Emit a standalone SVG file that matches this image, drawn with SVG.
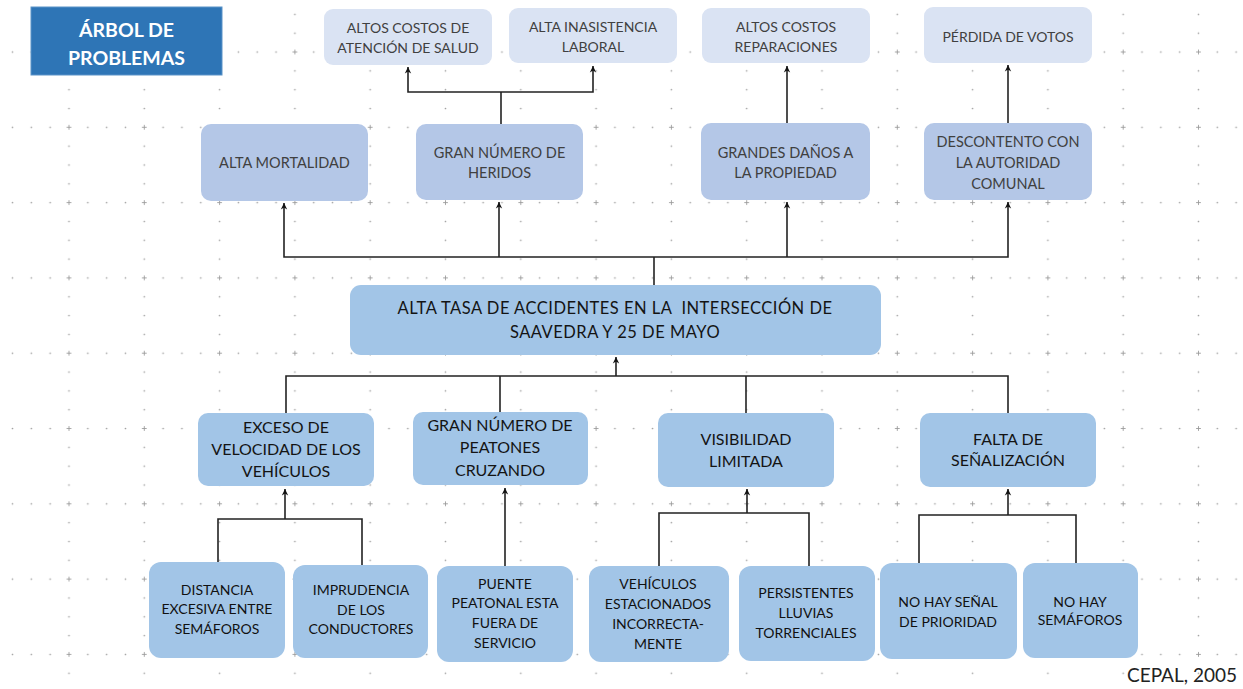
<svg xmlns="http://www.w3.org/2000/svg" width="1243" height="689" viewBox="0 0 1243 689">
<style>
.t{font-family:Lato,"Liberation Sans",sans-serif;text-anchor:middle}
.top{fill:#DAE3F3}
.mid{fill:#B4C7E7}
.low{fill:#A2C5E7}
.tg{font-size:14px;fill:#404040}
.tm{font-size:14.5px;fill:#404040}
.tc{font-size:16px;fill:#141414}
.tx{font-size:16.5px;fill:#141414;letter-spacing:0.5px;white-space:pre}
.tb{font-size:14px;fill:#111}
.ln{fill:none;stroke:#222;stroke-width:1.6}
</style>
<defs>
<pattern id="grid" patternUnits="userSpaceOnUse" x="59.59" y="42.59" width="75.3" height="75.3">
<path d="M7,9.41 H11.8 M9.41,7 V11.8" stroke="#9a9a9a" stroke-width="0.9"/>
<g fill="#a0a0a0">
<circle cx="28.24" cy="9.41" r="0.85"/><circle cx="47.06" cy="9.41" r="0.85"/><circle cx="65.89" cy="9.41" r="0.85"/>
<circle cx="9.41" cy="28.24" r="0.85"/><circle cx="9.41" cy="47.06" r="0.85"/><circle cx="9.41" cy="65.89" r="0.85"/>
</g>
</pattern>
<marker id="ar" viewBox="0 0 10 10" refX="9" refY="5" markerWidth="8" markerHeight="8" markerUnits="userSpaceOnUse" orient="auto-start-reverse">
<path d="M1,1 L9,5 L1,9 L3.5,5 z" fill="#111"/>
</marker>
</defs>
<rect width="1243" height="689" fill="#fff"/>
<rect width="1243" height="689" fill="url(#grid)"/>

<g id="connectors">
<path class="ln" d="M501,124 V92"/>
<path class="ln" d="M408,67 V92 H593 V66" marker-start="url(#ar)" marker-end="url(#ar)"/>
<path class="ln" d="M787,123 V66" marker-end="url(#ar)"/>
<path class="ln" d="M1008,123 V65" marker-end="url(#ar)"/>
<path class="ln" d="M654,285 V257"/>
<path class="ln" d="M284,203 V257 H1008 V202" marker-start="url(#ar)" marker-end="url(#ar)"/>
<path class="ln" d="M499,257 V202" marker-end="url(#ar)"/>
<path class="ln" d="M787,257 V202" marker-end="url(#ar)"/>
<path class="ln" d="M286,413 V376 H1008 V413"/>
<path class="ln" d="M500,376 V412"/>
<path class="ln" d="M746,376 V413"/>
<path class="ln" d="M616,376 V357" marker-end="url(#ar)"/>
<path class="ln" d="M218,562 V519 H362 V565"/>
<path class="ln" d="M285,519 V489" marker-end="url(#ar)"/>
<path class="ln" d="M505,566 V488" marker-end="url(#ar)"/>
<path class="ln" d="M659,566 V513 H809 V566"/>
<path class="ln" d="M747,513 V489" marker-end="url(#ar)"/>
<path class="ln" d="M919,563 V515 H1076 V563"/>
<path class="ln" d="M1008,515 V489" marker-end="url(#ar)"/>
</g>

<g id="title">
<rect x="31" y="7" width="191" height="68" fill="#2E75B6" stroke="#5b93c8" stroke-width="1"/>
<text class="t" x="126.5" y="37" font-size="19.5" font-weight="bold" fill="#fff">ÁRBOL DE</text>
<text class="t" x="126.5" y="65" font-size="19.5" font-weight="bold" fill="#fff">PROBLEMAS</text>
</g>

<g id="n-costos-salud">
<rect class="top" x="324" y="9" width="168" height="56" rx="9"/>
<text class="t tg" x="408" y="33">ALTOS COSTOS DE</text>
<text class="t tg" x="408" y="53">ATENCIÓN DE SALUD</text>
</g>
<g id="n-inasistencia">
<rect class="top" x="509" y="8" width="168" height="55" rx="9"/>
<text class="t tg" x="593" y="32">ALTA INASISTENCIA</text>
<text class="t tg" x="593" y="52">LABORAL</text>
</g>
<g id="n-costos-rep">
<rect class="top" x="702" y="8" width="168" height="55" rx="9"/>
<text class="t tg" x="786" y="32">ALTOS COSTOS</text>
<text class="t tg" x="786" y="52">REPARACIONES</text>
</g>
<g id="n-votos">
<rect class="top" x="924" y="7" width="168" height="56" rx="9"/>
<text class="t tg" x="1008" y="42">PÉRDIDA DE VOTOS</text>
</g>

<g id="n-mortalidad">
<rect class="mid" x="201" y="124" width="167" height="77" rx="10"/>
<text class="t tm" x="284.5" y="168">ALTA MORTALIDAD</text>
</g>
<g id="n-heridos">
<rect class="mid" x="416" y="124" width="167" height="76" rx="10"/>
<text class="t tm" x="499.5" y="158">GRAN NÚMERO DE</text>
<text class="t tm" x="499.5" y="178">HERIDOS</text>
</g>
<g id="n-danos">
<rect class="mid" x="701" y="123" width="169" height="77" rx="10"/>
<text class="t tm" x="785.5" y="158">GRANDES DAÑOS A</text>
<text class="t tm" x="785.5" y="178">LA PROPIEDAD</text>
</g>
<g id="n-descontento">
<rect class="mid" x="924" y="123" width="168" height="77" rx="10"/>
<text class="t tm" x="1008" y="147">DESCONTENTO CON</text>
<text class="t tm" x="1008" y="168">LA AUTORIDAD</text>
<text class="t tm" x="1008" y="189">COMUNAL</text>
</g>

<g id="n-central">
<rect class="low" x="350" y="285" width="531" height="70" rx="11"/>
<text class="t tx" x="615" y="314">ALTA TASA DE ACCIDENTES EN LA  INTERSECCIÓN DE</text>
<text class="t tx" x="615" y="338">SAAVEDRA Y 25 DE MAYO</text>
</g>

<g id="n-exceso">
<rect class="low" x="198" y="413" width="176" height="73" rx="10"/>
<text class="t tc" x="286" y="433">EXCESO DE</text>
<text class="t tc" x="286" y="455">VELOCIDAD DE LOS</text>
<text class="t tc" x="286" y="477">VEHÍCULOS</text>
</g>
<g id="n-peatones">
<rect class="low" x="413" y="412" width="175" height="73" rx="10"/>
<text class="t tc" x="500" y="431">GRAN NÚMERO DE</text>
<text class="t tc" x="500" y="453">PEATONES</text>
<text class="t tc" x="500" y="476">CRUZANDO</text>
</g>
<g id="n-visibilidad">
<rect class="low" x="658" y="413" width="176" height="74" rx="10"/>
<text class="t tc" x="746" y="445">VISIBILIDAD</text>
<text class="t tc" x="746" y="467">LIMITADA</text>
</g>
<g id="n-senalizacion">
<rect class="low" x="920" y="413" width="176" height="74" rx="10"/>
<text class="t tc" x="1008" y="445">FALTA DE</text>
<text class="t tc" x="1008" y="466">SEÑALIZACIÓN</text>
</g>

<g id="n-distancia">
<rect class="low" x="149" y="562" width="136" height="96" rx="12"/>
<text class="t tb" x="217" y="595">DISTANCIA</text>
<text class="t tb" x="217" y="614">EXCESIVA ENTRE</text>
<text class="t tb" x="217" y="634">SEMÁFOROS</text>
</g>
<g id="n-imprudencia">
<rect class="low" x="293" y="565" width="135" height="93" rx="12"/>
<text class="t tb" x="361" y="595">IMPRUDENCIA</text>
<text class="t tb" x="361" y="615">DE LOS</text>
<text class="t tb" x="361" y="634">CONDUCTORES</text>
</g>
<g id="n-puente">
<rect class="low" x="437" y="566" width="136" height="96" rx="12"/>
<text class="t tb" x="505" y="589">PUENTE</text>
<text class="t tb" x="505" y="608">PEATONAL ESTA</text>
<text class="t tb" x="505" y="628">FUERA DE</text>
<text class="t tb" x="505" y="648">SERVICIO</text>
</g>
<g id="n-estacionados">
<rect class="low" x="589" y="566" width="140" height="96" rx="12"/>
<text class="t tb" x="658" y="589">VEHÍCULOS</text>
<text class="t tb" x="658" y="609">ESTACIONADOS</text>
<text class="t tb" x="658" y="629">INCORRECTA-</text>
<text class="t tb" x="658" y="649">MENTE</text>
</g>
<g id="n-lluvias">
<rect class="low" x="739" y="566" width="136" height="95" rx="12"/>
<text class="t tb" x="806" y="598">PERSISTENTES</text>
<text class="t tb" x="806" y="618">LLUVIAS</text>
<text class="t tb" x="806" y="638">TORRENCIALES</text>
</g>
<g id="n-prioridad">
<rect class="low" x="880" y="563" width="137" height="96" rx="12"/>
<text class="t tb" x="948" y="607">NO HAY SEÑAL</text>
<text class="t tb" x="948" y="627">DE PRIORIDAD</text>
</g>
<g id="n-semaforos">
<rect class="low" x="1023" y="563" width="115" height="95" rx="12"/>
<text class="t tb" x="1080" y="607">NO HAY</text>
<text class="t tb" x="1080" y="625">SEMÁFOROS</text>
</g>

<text class="t" x="1182" y="682" font-size="19" fill="#222">CEPAL, 2005</text>
</svg>
